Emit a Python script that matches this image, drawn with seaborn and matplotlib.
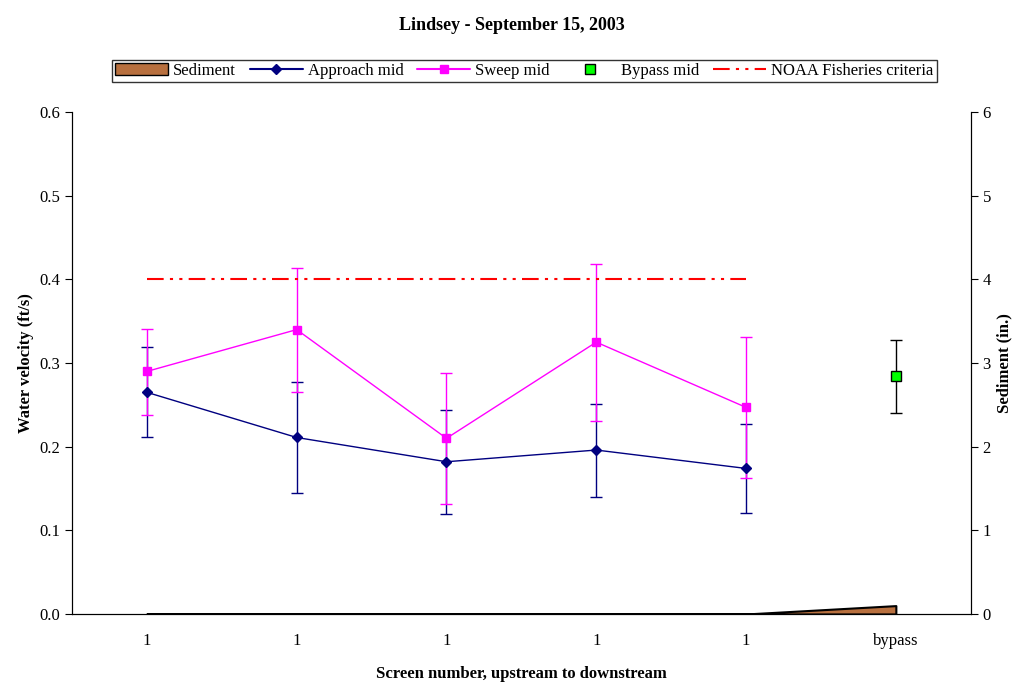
import matplotlib
matplotlib.use("Agg")
import matplotlib.pyplot as plt
import seaborn as sns
import numpy as np
import pandas as pd
from matplotlib.lines import Line2D
from matplotlib.patches import Patch

sns.set_style("white")
plt.rcParams['font.family'] = ['Liberation Serif', 'DejaVu Serif']
plt.rcParams['text.color'] = 'black'
plt.rcParams['axes.labelcolor'] = 'black'
plt.rcParams['xtick.color'] = 'black'
plt.rcParams['ytick.color'] = 'black'

tick_labels = ["1", "1", "1", "1", "1", "bypass"]
approach = [0.265, 0.211, 0.182, 0.196, 0.174]
approach_hi = [0.319, 0.277, 0.244, 0.251, 0.227]
approach_lo = [0.211, 0.145, 0.120, 0.140, 0.121]
sweep = [0.290, 0.340, 0.210, 0.325, 0.247]
sweep_hi = [0.341, 0.414, 0.288, 0.418, 0.331]
sweep_lo = [0.238, 0.265, 0.131, 0.231, 0.163]
bypass = [0.284]
bypass_hi = [0.328]
bypass_lo = [0.240]
sediment = [0, 0, 0, 0, 0, 0.1]
noaa = [0.4, 0.4, 0.4, 0.4, 0.4]

fig = plt.figure(figsize=(10.24, 6.88), dpi=100)
ax = fig.add_axes([0.0703, 0.1076, 0.8777, 0.7294])
ax2 = ax.twinx()
ax.set_zorder(ax2.get_zorder() + 1)
ax.patch.set_visible(False)

x = np.arange(5)
ax2.fill_between(np.arange(6), sediment, color="#b8703f", edgecolor="black", linewidth=1.5)
ax2.set_ylim(0, 6)
ax2.set_yticks(range(7))
ax2.set_ylabel("Sediment (in.)", fontweight="bold", fontsize=12)

a = np.array(approach); s = np.array(sweep)
ax.errorbar(x, a, yerr=[a - np.array(approach_lo), np.array(approach_hi) - a], color="#000080",
            marker="D", markersize=5, capsize=4, lw=1, elinewidth=1)
ax.errorbar(x, s, yerr=[s - np.array(sweep_lo), np.array(sweep_hi) - s], color="#ff00ff",
            marker="s", markersize=6, capsize=4, lw=1, elinewidth=1)
b = np.array(bypass)
ax.errorbar([5], b, yerr=[b - np.array(bypass_lo), np.array(bypass_hi) - b], color="black",
            marker="s", markersize=7, markerfacecolor="#00ff00", markeredgecolor="black",
            capsize=4, lw=0, elinewidth=1)
sns.lineplot(x=x, y=noaa, ax=ax, color="red", linestyle=(0, (8, 3, 1.5, 3, 1.5, 3)), lw=1.5)

ax.set_xlim(-0.5, 5.5)
ax.set_ylim(0, 0.6)
ax.set_yticks(np.arange(0, 0.61, 0.1))
ax.set_yticklabels([f"{v:.1f}" for v in np.arange(0, 0.61, 0.1)])
ax.set_xticks(np.arange(-0.5, 5.6, 1))
ax.set_xticklabels([])
ax.set_xticks(np.arange(6), minor=True)
ax.set_xticklabels(tick_labels, minor=True)
ax.tick_params(axis="x", which="minor", length=0, pad=14, labelsize=12)
ax.tick_params(axis="x", which="major", direction="in", length=5)
ax.tick_params(axis="y", direction="out", length=5, labelsize=12, left=True)
ax2.tick_params(axis="y", direction="out", length=5, labelsize=12, right=True)
ax.set_ylabel("Water velocity (ft/s)", fontweight="bold", fontsize=12)
ax.set_xlabel("Screen number, upstream to downstream", fontweight="bold", fontsize=12, labelpad=12)
for sp in ["top"]:
    ax.spines[sp].set_visible(False); ax2.spines[sp].set_visible(False)
for a_ in (ax, ax2):
    for sp in a_.spines.values():
        sp.set_color("black")

fig.suptitle("Lindsey - September 15, 2003", fontweight="bold", fontsize=13, y=0.975)

handles = [Patch(facecolor="#b8703f", edgecolor="black"),
           Line2D([], [], color="#000080", marker="D", markersize=5),
           Line2D([], [], color="#ff00ff", marker="s", markersize=6),
           Line2D([], [], color="none", marker="s", markersize=7, markerfacecolor="#00ff00", markeredgecolor="black"),
           Line2D([], [], color="red", linestyle=(0, (8, 3, 1.5, 3, 1.5, 3)), lw=1.5)]
labels = ["Sediment", "Approach mid", "Sweep mid", "Bypass mid", "NOAA Fisheries criteria"]
leg = fig.legend(handles, labels, loc="center", bbox_to_anchor=(0.512, 0.897), ncol=5, frameon=True,
                 fancybox=False, edgecolor="black", fontsize=12, handlelength=3.2, columnspacing=0.8,
                 handletextpad=0.3, borderpad=0.2)
leg.get_frame().set_linewidth(1)
fig.savefig("out.png", dpi=100)
